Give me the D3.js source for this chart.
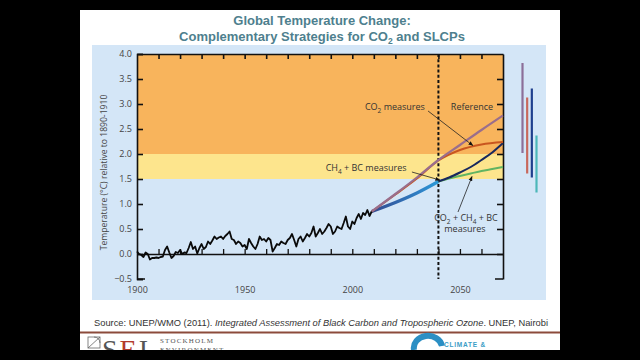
<!DOCTYPE html>
<html>
<head>
<meta charset="utf-8">
<script src="https://cdn.jsdelivr.net/npm/d3@7"></script>
<style>
  body { margin: 0; background: #000; }
  svg { display: block; }
  .tick text { font-family: "Open Sans", sans-serif; font-size: 9px; fill: #444; }
</style>
</head>
<body>
<div id="chartDiv"></div>
<script>
var obsYears = d3.range(1900, 2010);
var obsValues = [
  0.05, 0.00, -0.02, -0.06, 0.03, 0.00, -0.11, -0.08, -0.08, -0.07,
  -0.08, -0.06, -0.05, 0.08, 0.15, 0.03, -0.08, -0.04, 0.04, 0.02,
  0.08, 0.00, 0.03, 0.02, 0.12, 0.24, 0.10, 0.15, 0.01, 0.12,
  0.20, 0.10, 0.14, 0.25, 0.20, 0.27, 0.35, 0.30, 0.33, 0.35,
  0.30, 0.36, 0.40, 0.45, 0.30, 0.28, 0.20, 0.25, 0.22, 0.15,
  0.18, 0.10, 0.30, 0.22, 0.15, 0.10, 0.20, 0.35, 0.28, 0.30,
  0.25, 0.32, 0.28, 0.05, 0.12, 0.20, 0.18, 0.25, 0.22, 0.20,
  0.28, 0.32, 0.40, 0.28, 0.15, 0.30, 0.35, 0.25, 0.32, 0.40,
  0.35, 0.42, 0.55, 0.35, 0.42, 0.50, 0.40, 0.45, 0.52, 0.60,
  0.55, 0.40, 0.45, 0.55, 0.52, 0.50, 0.62, 0.75, 0.55, 0.50,
  0.65, 0.60, 0.72, 0.80, 0.70, 0.82, 0.78, 0.88, 0.76, 0.85
];

// projections
var projYears = [2009, 2020, 2030, 2040, 2050, 2060, 2070];
var referenceValues = [0.85, 1.20, 1.53, 1.88, 2.18, 2.48, 2.77];
var co2Values = [0.85, 1.19, 1.51, 1.87, 2.08, 2.19, 2.24];

var sharedYears = [2009, 2020, 2030, 2040];
var sharedValues = [0.85, 1.03, 1.22, 1.45];

var splitYears = [2040, 2045, 2050, 2055, 2060, 2065, 2070];
var ch4bcValues = [1.45, 1.53, 1.63, 1.74, 1.88, 2.03, 2.22];
var allValues = [1.45, 1.51, 1.56, 1.61, 1.66, 1.70, 1.74];

// uncertainty ranges at 2070 [low, high]
var rangeNames = ["Reference", "CO2", "CH4BC", "All"];
var rangeLow = [2.02, 1.61, 1.53, 1.23];
var rangeHigh = [3.82, 3.13, 3.31, 2.37];

var yTicks = d3.range(-0.5, 4.01, 0.5);
var xLabels = [1900, 1950, 2000, 2050];
var decadeTicks = d3.range(1910, 2061, 10);

var W = 640, H = 360;
var svg = d3.select("#chartDiv").append("svg")
  .attr("width", W).attr("height", H);
var defs = svg.append("defs");

svg.append("rect").attr("width", W).attr("height", H).attr("fill", "#000");

defs.append("clipPath").attr("id", "slideClip")
  .append("rect").attr("x", 80).attr("y", 10).attr("width", 480).attr("height", 340);

var slide = svg.append("g").attr("clip-path", "url(#slideClip)");
slide.append("rect").attr("x", 80).attr("y", 10).attr("width", 480).attr("height", 340).attr("fill", "#fff");

// title
var title = slide.append("text")
  .attr("text-anchor", "middle")
  .attr("font-family", "Liberation Sans, Arial, sans-serif")
  .attr("font-weight", "bold")
  .attr("font-size", 13)
  .attr("fill", "#4e7f8e");
title.append("tspan").attr("x", 322).attr("y", 25).text("Global Temperature Change:");
var t2 = title.append("tspan").attr("x", 322).attr("y", 40.5);
t2.append("tspan").text("Complementary Strategies for CO");
t2.append("tspan").attr("font-size", 8.5).attr("dy", 3).text("2");
t2.append("tspan").attr("dy", -3).text(" and SLCPs");

// light blue panel
slide.append("rect").attr("x", 92).attr("y", 45).attr("width", 454).attr("height", 255).attr("fill", "#d4e6f7");

var x = d3.scaleLinear().domain([1900, 2070]).range([137, 503]);
var y = d3.scaleLinear().domain([-0.5, 4]).range([279, 54]);

// bands
slide.append("rect").attr("x", x(1900)).attr("y", y(4)).attr("width", x(2070) - x(1900))
  .attr("height", y(2) - y(4)).attr("fill", "#f8b45c");
slide.append("rect").attr("x", x(1900)).attr("y", y(2)).attr("width", x(2070) - x(1900))
  .attr("height", y(1.5) - y(2)).attr("fill", "#fde58d");

function darkAxis(w) {
  return function(g) { g.selectAll("path, line").attr("stroke", "#111").attr("stroke-width", w); };
}

// axes
slide.append("g").attr("transform", "translate(" + x(1900) + ",0)")
  .call(d3.axisLeft(y).tickValues(yTicks).tickSize(-6).tickPadding(5).tickFormat(d3.format(".1f")))
  .call(darkAxis(1.6));

slide.append("g").attr("transform", "translate(0," + y(4) + ")")
  .call(d3.axisTop(x).tickValues(decadeTicks).tickSize(-5).tickSizeOuter(0).tickFormat(""))
  .call(darkAxis(1.6));

slide.append("g").attr("transform", "translate(" + x(2070) + ",0)")
  .call(d3.axisRight(y).tickValues(d3.range(0, 3.51, 0.5)).tickSize(-6).tickSizeOuter(0).tickFormat(""))
  .call(darkAxis(1.6));

slide.append("g").attr("transform", "translate(0," + y(0) + ")")
  .call(d3.axisTop(x).tickValues(decadeTicks).tickSize(5).tickSizeOuter(0).tickFormat(""))
  .call(darkAxis(1.3));

var xAxis = slide.append("g").attr("transform", "translate(0," + y(-0.5) + ")")
  .call(d3.axisBottom(x).tickValues(xLabels).tickSize(0).tickPadding(8).tickFormat(d3.format("d")));
xAxis.select(".domain").remove();

// short corner stubs at the bottom
slide.append("path")
  .attr("d", "M" + x(1900) + "," + y(-0.5) + "H" + (x(1900) + 8) +
             "M" + (x(2070) - 8) + "," + y(-0.5) + "H" + x(2070))
  .attr("stroke", "#111").attr("stroke-width", 1.6);

// y label
slide.append("text")
  .attr("transform", "translate(107," + ((y(4) + y(-0.5)) / 2 + 6) + ") rotate(-90)")
  .attr("text-anchor", "middle")
  .attr("font-family", "Open Sans, sans-serif")
  .attr("font-size", 8.6)
  .attr("fill", "#444")
  .text("Temperature (\u00b0C) relative to 1890-1910");

// dashed 2040 line
slide.append("line")
  .attr("x1", x(2040)).attr("x2", x(2040)).attr("y1", y(4)).attr("y2", y(-0.5))
  .attr("stroke", "#111").attr("stroke-width", 2).attr("stroke-dasharray", "3,2.2");

var line = d3.line()
  .x(function(d) { return x(d[0]); })
  .y(function(d) { return y(d[1]); });
var smooth = d3.line()
  .x(function(d) { return x(d[0]); })
  .y(function(d) { return y(d[1]); })
  .curve(d3.curveMonotoneX);

function pairs(xs, ys) { return xs.map(function(v, i) { return [v, ys[i]]; }); }

// gradient for the shared blue part
var grad = defs.append("linearGradient").attr("id", "blueGrad")
  .attr("gradientUnits", "userSpaceOnUse")
  .attr("x1", x(2009)).attr("x2", x(2040)).attr("y1", 0).attr("y2", 0);
grad.append("stop").attr("offset", 0).attr("stop-color", "#34498f");
grad.append("stop").attr("offset", 0.7).attr("stop-color", "#2f7fc4");
grad.append("stop").attr("offset", 1).attr("stop-color", "#2a9ad8");

slide.append("path").datum(pairs(sharedYears, sharedValues)).attr("d", smooth)
  .attr("fill", "none").attr("stroke", "url(#blueGrad)").attr("stroke-width", 3.2);
slide.append("path").datum(pairs(splitYears, allValues)).attr("d", smooth)
  .attr("fill", "none").attr("stroke", "#62b462").attr("stroke-width", 2);
slide.append("path").datum(pairs(splitYears, ch4bcValues)).attr("d", smooth)
  .attr("fill", "none").attr("stroke", "#18285e").attr("stroke-width", 2);
slide.append("path").datum(pairs(projYears, co2Values)).attr("d", smooth)
  .attr("fill", "none").attr("stroke", "#c9561f").attr("stroke-width", 2);
slide.append("path").datum(pairs(projYears, referenceValues)).attr("d", smooth)
  .attr("fill", "none").attr("stroke", "#9a6e8c").attr("stroke-width", 2.2);

// observations
slide.append("path").datum(pairs(obsYears, obsValues)).attr("d", line)
  .attr("fill", "none").attr("stroke", "#0a0a0a").attr("stroke-width", 1.8).attr("stroke-linejoin", "round");

// ranges at the right
var rangeX = d3.scalePoint().domain(rangeNames).range([522.5, 536.5]);
var rangeColors = ["#8c6f99", "#c8685c", "#1f3f8d", "#4cb7b9"];
slide.selectAll(".range").data(rangeNames).enter().append("line")
  .attr("class", "range")
  .attr("x1", function(d) { return rangeX(d); })
  .attr("x2", function(d) { return rangeX(d); })
  .attr("y1", function(d, i) { return y(rangeHigh[i]); })
  .attr("y2", function(d, i) { return y(rangeLow[i]); })
  .attr("stroke", function(d, i) { return rangeColors[i]; })
  .attr("stroke-width", 2.2);

// annotations
var marker = defs.append("marker").attr("id", "arrow")
  .attr("viewBox", "0 0 10 10").attr("refX", 9).attr("refY", 5)
  .attr("markerWidth", 6).attr("markerHeight", 6).attr("orient", "auto");
marker.append("path").attr("d", "M0,1 L10,5 L0,9 z").attr("fill", "#111");

function arrow(a, b) {
  slide.append("line")
    .attr("x1", x(a[0])).attr("y1", y(a[1])).attr("x2", x(b[0])).attr("y2", y(b[1]))
    .attr("stroke", "#222").attr("stroke-width", 0.8).attr("marker-end", "url(#arrow)");
}
// parts: plain strings, or ["2"] arrays for subscripts
function label(year, value, parts) {
  var t = slide.append("text").attr("x", x(year)).attr("y", y(value))
    .attr("text-anchor", "middle").attr("font-family", "Open Sans, sans-serif")
    .attr("font-size", 9).attr("fill", "#333");
  var shift = 0;
  parts.forEach(function(p) {
    if (Array.isArray(p)) {
      t.append("tspan").attr("font-size", 6.5).attr("dy", 2.5 - shift).text(p[0]);
      shift = 2.5;
    } else {
      t.append("tspan").attr("dy", -shift).text(p);
      shift = 0;
    }
  });
  return t;
}

label(2019.8, 2.88, ["CO", ["2"], " measures"]);
label(2055.6, 2.88, ["Reference"]);
label(2006.4, 1.66, ["CH", ["4"], " + BC measures"]);
label(2052.8, 0.66, ["CO", ["2"], " + CH", ["4"], " + BC"]);
label(2052.3, 0.44, ["measures"]);

arrow([2035.2, 2.86], [2056, 2.17]);
arrow([2027.7, 1.64], [2040.6, 1.48]);
arrow([2049.1, 0.84], [2055.6, 1.55]);

// source line
var src = slide.append("text").attr("x", 94).attr("y", 326)
  .attr("font-family", "Liberation Sans, Arial, sans-serif").attr("font-size", 9.6).attr("fill", "#333")
  .attr("textLength", 454).attr("lengthAdjust", "spacingAndGlyphs");
src.append("tspan").text("Source: UNEP/WMO (2011). ");
src.append("tspan").attr("font-style", "italic").text("Integrated Assessment of Black Carbon and Tropospheric Ozone");
src.append("tspan").text(". UNEP, Nairobi");

// footer rule and logos
slide.append("rect").attr("x", 80).attr("y", 331.5).attr("width", 480).attr("height", 2).attr("fill", "#8c4b3b");

slide.append("rect").attr("x", 88).attr("y", 337).attr("width", 12).attr("height", 11)
  .attr("fill", "none").attr("stroke", "#666").attr("stroke-width", 0.8);
slide.append("path").attr("d", "M88,348 L100,337 M94,337 A6,6 0 0 1 100,343")
  .attr("fill", "none").attr("stroke", "#666").attr("stroke-width", 0.8);
var sei = slide.append("text").attr("x", 102).attr("y", 359)
  .attr("font-family", "Liberation Serif, serif").attr("font-size", 28);
sei.append("tspan").attr("fill", "#555").text("S");
sei.append("tspan").attr("fill", "#b33a2c").attr("dx", 2).text("E");
sei.append("tspan").attr("fill", "#555").attr("dx", 2).text("I");
slide.append("text").attr("x", 160).attr("y", 343)
  .attr("font-family", "Liberation Serif, serif").attr("font-size", 7).attr("letter-spacing", 1.2)
  .attr("fill", "#555").text("STOCKHOLM");
slide.append("text").attr("x", 160).attr("y", 352)
  .attr("font-family", "Liberation Serif, serif").attr("font-size", 7).attr("letter-spacing", 1.2)
  .attr("fill", "#555").text("ENVIRONMENT");

slide.append("path").attr("d", "M414,350 A14,12 0 0 1 442,346")
  .attr("fill", "none").attr("stroke", "#2b8fc4").attr("stroke-width", 6);
slide.append("text").attr("x", 444).attr("y", 347)
  .attr("font-family", "Liberation Sans, Arial, sans-serif").attr("font-weight", "bold")
  .attr("font-size", 6.5).attr("letter-spacing", 0.8).attr("fill", "#3a9dc6").text("CLIMATE &");
</script>
</body>
</html>
